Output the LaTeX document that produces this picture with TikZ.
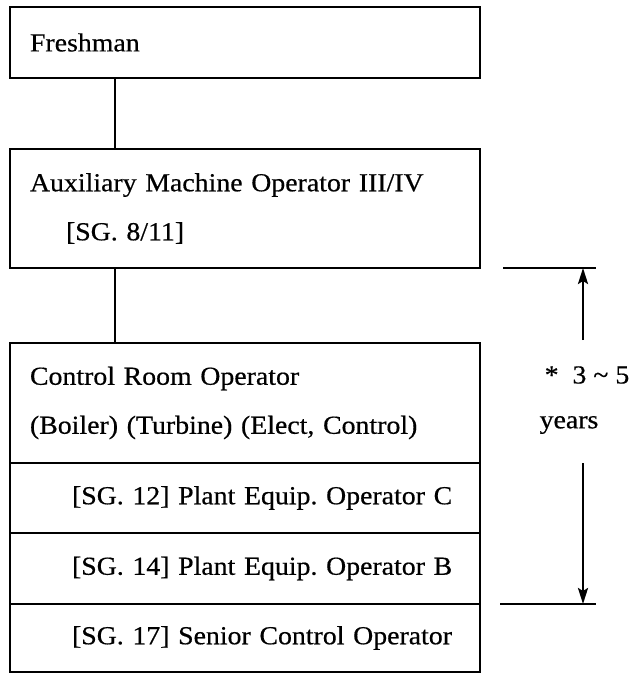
\documentclass[tikz,border=0pt]{standalone}
\usepackage{fontspec}
\setmainfont[FakeStretch=1.07,FakeBold=0.5]{Liberation Serif}
\usepackage{tikz}
\usetikzlibrary{arrows.meta,positioning}

\begin{document}
\begin{tikzpicture}[x=1pt, y=-1pt, >={Stealth[length=16pt,width=10pt,inset=3pt]},
  rank/.style={draw, line width=2pt, outer sep=0pt, minimum width=470pt, text width=460pt, inner xsep=5pt, inner ysep=0pt, align=left, font=\fontsize{26}{49}\selectfont\frenchspacing},
  note/.style={font=\fontsize{26}{30}\selectfont, inner sep=0pt}]
\useasboundingbox (0,0) rectangle (636,674);
\node[rank, minimum height=71pt, anchor=north west] (fresh) at (10,7) {\hspace*{15pt}Freshman};
\node[rank, minimum height=119pt, below=71pt of fresh] (aux) {\hspace*{15pt}Auxiliary Machine Operator III/IV\\\hspace*{51pt}[SG. 8/11]};
\node[rank, minimum height=120pt, below=75pt of aux] (cro) {\hspace*{15pt}Control Room Operator\\\hspace*{15pt}(Boiler) (Turbine) (Elect, Control)};
\node[rank, minimum height=70pt, below=0pt of cro] (sgc) {\hspace*{57pt}[SG. 12] Plant Equip. Operator C};
\node[rank, minimum height=71pt, below=0pt of sgc] (sgb) {\hspace*{57pt}[SG. 14] Plant Equip. Operator B};
\node[rank, minimum height=68pt, below=0pt of sgb] (sgs) {\hspace*{57pt}[SG. 17] Senior Control Operator};
\draw[line width=2pt] ([xshift=105pt]fresh.south west) -- ([xshift=105pt]aux.north west);
\draw[line width=2pt] ([xshift=105pt]aux.south west) -- ([xshift=105pt]cro.north west);
\draw[line width=1.4pt] ([xshift=23pt]aux.south east) -- ([xshift=116pt]aux.south east);
\draw[line width=1.4pt] ([xshift=20pt]sgb.south east) -- ([xshift=116pt]sgb.south east);
\node[note] (span) at (587,375) {*\ \ 3 \textasciitilde\ 5};
\node[note] (yrs) at (569,425) {years};
\coordinate (upfoot) at (583,340);
\coordinate (upend) at (583,268);
\coordinate (dnfoot) at (583,463);
\coordinate (dnend) at (583,604);
\draw[->, line width=2.4pt] (upfoot) -- (upend);
\draw[->, line width=2.4pt] (dnfoot) -- (dnend);
\end{tikzpicture}
\end{document}
